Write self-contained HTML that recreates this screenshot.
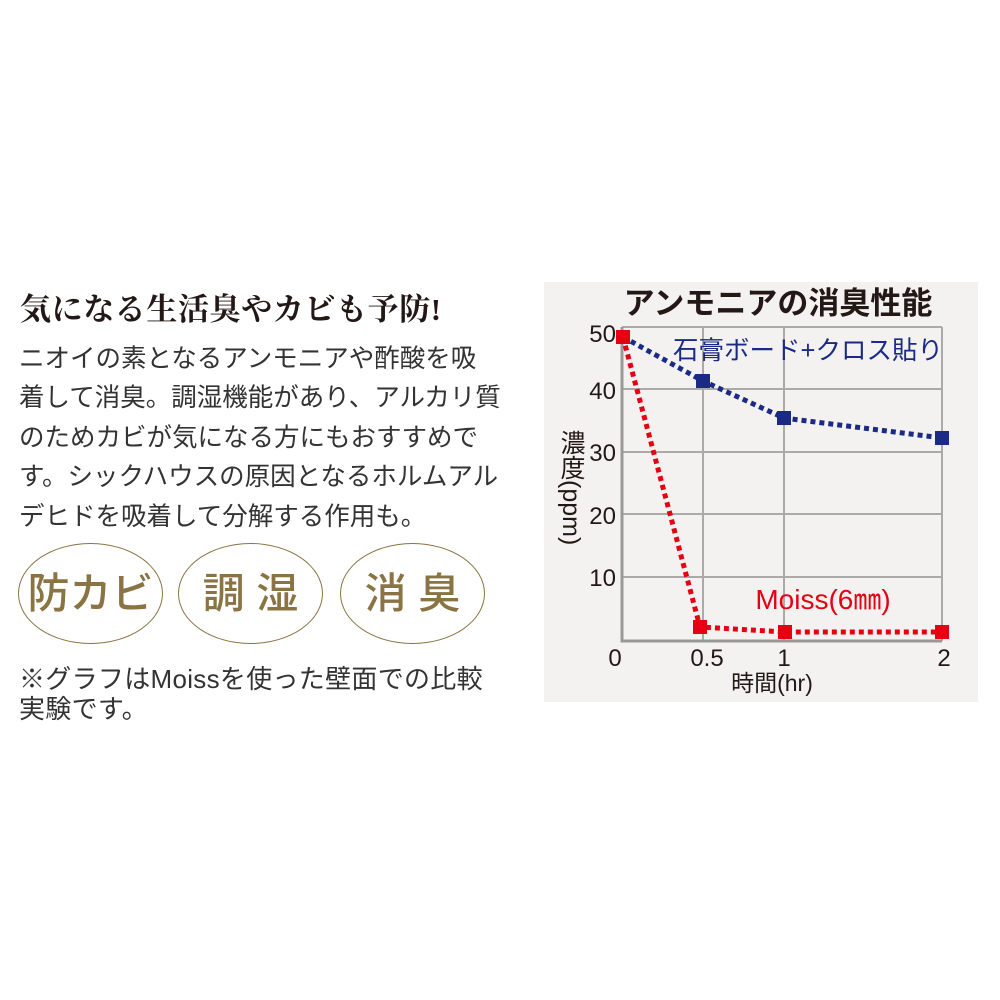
<!DOCTYPE html>
<html><head><meta charset="utf-8"><style>
body{margin:0;width:1000px;height:1000px;background:#fff;position:relative;overflow:hidden;font-family:"Liberation Sans","Noto Sans CJK JP",sans-serif;color:#231815}
.a{position:absolute;white-space:nowrap}
.h{left:20px;top:284px;font-family:"Liberation Serif","Noto Serif CJK SC",serif;font-weight:bold;font-size:31px;letter-spacing:0.6px}
.b{left:19px;top:340px;font-size:25.5px;line-height:39.4px;color:#333}
.e{position:absolute;top:543px;width:143px;height:99px;border:1.5px solid #8a7443;border-radius:50%;color:#8a7443;font-size:42px;font-weight:500;text-align:center;line-height:99px}
.n{left:19px;top:664px;font-size:26px;line-height:30px;color:#333;letter-spacing:0.3px}
.y{left:556px;top:430px;writing-mode:vertical-rl;font-size:25px;line-height:30px;color:#231815}
</style></head><body>
<div class="a h">気になる生活臭やカビも予防!</div>
<div class="a b">ニオイの素となるアンモニアや酢酸を吸<br>着して消臭。調湿機能があり、アルカリ質<br>のためカビが気になる方にもおすすめで<br>す。シックハウスの原因となるホルムアル<br>デヒドを吸着して分解する作用も。</div>
<svg class="a" style="left:0;top:0" width="1000" height="1000">
<rect x="544" y="282" width="434" height="420" fill="#f3f2f0"/>
<g stroke="#aaa" stroke-width="2" fill="none">
<line x1="622" y1="327" x2="942" y2="327"/><line x1="622" y1="389" x2="942" y2="389"/><line x1="622" y1="452" x2="942" y2="452"/><line x1="622" y1="514" x2="942" y2="514"/><line x1="622" y1="577" x2="942" y2="577"/>
<line x1="703" y1="327" x2="703" y2="641"/><line x1="784" y1="327" x2="784" y2="641"/><line x1="942" y1="327" x2="942" y2="641"/>
<polyline points="622,327 622,641 942,641" stroke="#999" stroke-width="3"/>
</g>
<polyline points="623,337 703,381 784,418 942,438" fill="none" stroke="#1a2a85" stroke-width="5" stroke-dasharray="5,4"/>
<polyline points="623,337 700,627 785,632 942,632" fill="none" stroke="#e60012" stroke-width="5" stroke-dasharray="5,4"/>
<g fill="#1a2a85"><rect x="696" y="374" width="14" height="14"/><rect x="777" y="411" width="14" height="14"/><rect x="935" y="431" width="14" height="14"/></g>
<g fill="#e60012"><rect x="616" y="330" width="14" height="14"/><rect x="693" y="620" width="14" height="14"/><rect x="778" y="625" width="14" height="14"/><rect x="935" y="625" width="14" height="14"/></g>
<g font-size="24" fill="#231815" text-anchor="end"><text x="616" y="342">50</text><text x="616" y="399">40</text><text x="616" y="461">30</text><text x="616" y="524">20</text><text x="616" y="586">10</text></g>
<g font-size="24" fill="#231815" text-anchor="middle"><text x="615" y="666">0</text><text x="707" y="666">0.5</text><text x="784" y="666">1</text><text x="944" y="666">2</text></g>
<text x="772" y="691" font-size="23" text-anchor="middle" fill="#231815">時間(hr)</text>
<text x="778" y="314" font-size="31" font-weight="bold" text-anchor="middle" fill="#231815">アンモニアの消臭性能</text>
<text x="808" y="359" font-size="25.5" text-anchor="middle" fill="#1a2a85">石膏ボード+クロス貼り</text>
<text x="823" y="609" font-size="28" text-anchor="middle" fill="#e60012">Moiss(6㎜)</text>
</svg>
<div class="a y">濃度(ppm)</div>
<div class="e" style="left:18px">防カビ</div>
<div class="e" style="left:178px">調&nbsp;湿</div>
<div class="e" style="left:340px">消&nbsp;臭</div>
<div class="a n">※グラフはMoissを使った壁面での比較<br>実験です。</div>
</body></html>
